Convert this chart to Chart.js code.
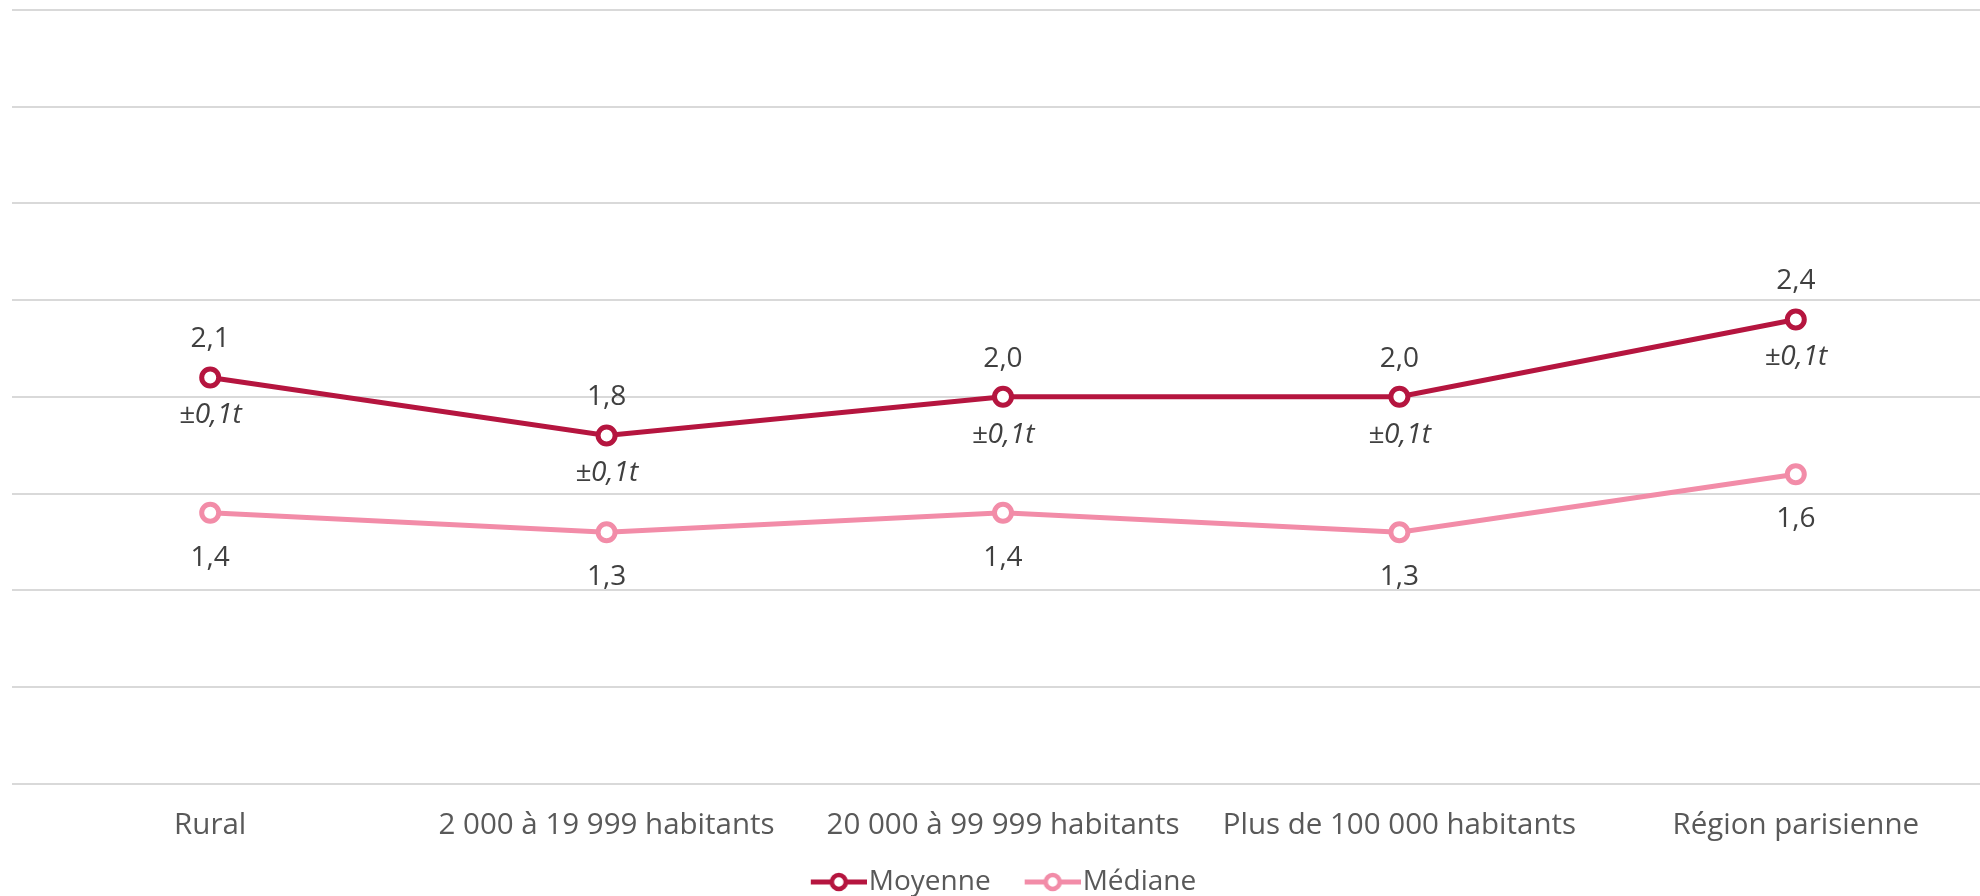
<!DOCTYPE html>
<html>
<head>
<meta charset="utf-8">
<script src="https://cdn.jsdelivr.net/npm/chart.js@4"></script>
<style>
  html, body { margin: 0; padding: 0; background: #fff; overflow: hidden; }
  #wrap { width: 1980px; height: 896px; overflow: hidden; }
  canvas { display: block; }
</style>
</head>
<body>
<!-- the plot runs a little past the right edge in the original, so the canvas is wider than the page -->
<div id="wrap"><canvas id="chart" width="1994" height="896"></canvas></div>
<script>
// Data
const categories = ['Rural', '2 000 à 19 999 habitants', '20 000 à 99 999 habitants', 'Plus de 100 000 habitants', 'Région parisienne'];
const moyenne = [2.1, 1.8, 2.0, 2.0, 2.4];
const mediane = [1.4, 1.3, 1.4, 1.3, 1.6];
const moyenneMarge = ['±0,1t', '±0,1t', '±0,1t', '±0,1t', '±0,1t'];
const yMin = 0, yMax = 4, yStep = 0.5;

const RED = '#B5153F';
const PINK = '#F28CA8';
const FONT = "'Open Sans', sans-serif";

const fmt = v => v.toFixed(1).replace('.', ',');

// legend marker: short line with a hollow circle (drawn off-centre so the text sits close)
function marker(color) {
  const c = document.createElement('canvas');
  c.width = 101; c.height = 24;
  const g = c.getContext('2d');
  g.strokeStyle = color;
  g.lineWidth = 5;
  g.beginPath(); g.moveTo(45, 12); g.lineTo(101, 12); g.stroke();
  g.beginPath(); g.arc(73, 12, 7, 0, Math.PI * 2);
  g.fillStyle = '#fff'; g.fill();
  g.lineWidth = 4.5; g.stroke();
  return c;
}

// value labels drawn next to the points
const pointLabels = {
  id: 'pointLabels',
  afterDatasetsDraw(chart) {
    const ctx = chart.ctx;
    ctx.save();
    ctx.textAlign = 'center';
    ctx.textBaseline = 'middle';
    ctx.fillStyle = '#404040';
    chart.getDatasetMeta(0).data.forEach((p, i) => {
      ctx.font = '28px ' + FONT;
      ctx.fillText(fmt(moyenne[i]), p.x, p.y - 38);
      ctx.font = 'italic 28px ' + FONT;
      ctx.fillText(moyenneMarge[i], p.x, p.y + 38);
    });
    chart.getDatasetMeta(1).data.forEach((p, i) => {
      ctx.font = '28px ' + FONT;
      ctx.fillText(fmt(mediane[i]), p.x, p.y + 45);
    });
    ctx.restore();
  }
};

// move legend a bit (the original sits lower than Chart.js puts it)
const legendNudge = {
  id: 'legendNudge',
  afterLayout(chart) {
    const l = chart.legend;
    l.left -= 16; l.right -= 16;
    l.top += 10; l.bottom += 10;
  }
};

const ctx = document.getElementById('chart').getContext('2d');
new Chart(ctx, {
  type: 'line',
  data: {
    labels: categories,
    datasets: [{
      label: 'Moyenne',
      data: moyenne,
      borderColor: RED,
      backgroundColor: '#fff',
      borderWidth: 5,
      pointRadius: 8.5,
      pointBorderWidth: 5,
      pointBackgroundColor: '#fff',
      pointBorderColor: RED,
      pointStyle: 'circle',
      tension: 0
    }, {
      label: 'Médiane',
      data: mediane,
      borderColor: PINK,
      backgroundColor: '#fff',
      borderWidth: 5,
      pointRadius: 8.5,
      pointBorderWidth: 5,
      pointBackgroundColor: '#fff',
      pointBorderColor: PINK,
      pointStyle: 'circle',
      tension: 0
    }]
  },
  options: {
    responsive: false,
    animation: false,
    layout: { autoPadding: false, padding: { top: 10, left: 12, right: 0, bottom: 0 } },
    plugins: {
      tooltip: { enabled: false },
      legend: {
        position: 'bottom',
        labels: {
          usePointStyle: true,
          pointStyleWidth: 77,
          padding: 1,
          color: '#595959',
          font: { size: 28, family: FONT },
          generateLabels: chart => chart.data.datasets.map((ds, i) => ({
            text: ds.label,
            pointStyle: marker(ds.borderColor),
            fontColor: '#595959',
            datasetIndex: i,
            hidden: false,
            lineWidth: 0
          }))
        }
      }
    },
    scales: {
      x: {
        offset: true,
        grid: { display: false, drawTicks: false },
        border: { display: false },
        afterFit: s => { s.height -= 11; },
        ticks: {
          color: '#595959',
          padding: 24.5,
          maxRotation: 0,
          autoSkip: false,
          font: { size: 29.5, family: FONT }
        }
      },
      y: {
        min: yMin,
        max: yMax,
        grid: { color: '#D9D9D9', lineWidth: 2, drawTicks: false },
        border: { display: false },
        ticks: { display: false, stepSize: yStep }
      }
    }
  },
  plugins: [pointLabels, legendNudge]
});
</script>
</body>
</html>
